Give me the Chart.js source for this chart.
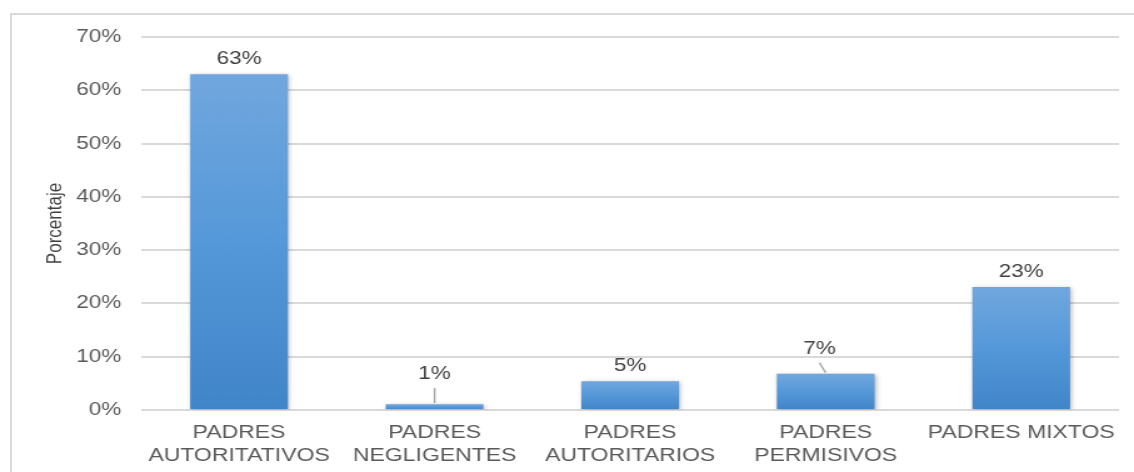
<!DOCTYPE html>
<html>
<head>
<meta charset="utf-8">
<script src="https://cdn.jsdelivr.net/npm/chart.js@4"></script>
<style>
  html, body { margin: 0; padding: 0; background: #fff; overflow: hidden; }
  #wrap { position: relative; width: 1134px; height: 472px; overflow: hidden; }
  #frame { position: absolute; left: 10px; top: 13px; width: 1200px; height: 500px; border: 2px solid #d9d9d9; box-sizing: border-box; }
  /* the original picture is stretched sideways, text included */
  canvas { position: absolute; left: 0; top: 0; transform: scaleX(1.2503); transform-origin: 0 0; }
</style>
</head>
<body>
<div id="wrap">
  <div id="frame"></div>
  <canvas id="myCanvas" width="907" height="472"></canvas>
</div>
<script>
'use strict'

var categories = [["PADRES", "AUTORITATIVOS"], ["PADRES", "NEGLIGENTES"], ["PADRES", "AUTORITARIOS"], ["PADRES", "PERMISIVOS"], "PADRES MIXTOS"]
var percentages = [63, 1.1, 5.4, 6.8, 23.1]
var pointLabels = ["63%", "1%", "5%", "7%", "23%"]
var yTicks = [0, 10, 20, 30, 40, 50, 60, 70]

// labels pushed away from their bar get a small leader line
var leaders = { 1: { dx: 0, dy: 30 }, 3: { dx: -5, dy: 25 } }

var font = "'Liberation Sans', Arial, sans-serif"

function barFill(context) {
    var chart = context.chart
    var y = chart.scales.y
    if (!chart.chartArea || !y) return "#5b9bd5"
    var top = y.getPixelForValue(context.raw)
    var bottom = y.getPixelForValue(0)
    if (!isFinite(top) || top === bottom) return "#5b9bd5"
    var g = chart.ctx.createLinearGradient(0, top, 0, bottom)
    g.addColorStop(0, "#71a7de")
    g.addColorStop(0.5, "#5598d9")
    g.addColorStop(1, "#4185c9")
    return g
}

var shadowPlugin = {
    id: "barShadow",
    beforeDatasetsDraw: function(chart) {
        var ctx = chart.ctx
        ctx.save()
        ctx.shadowColor = "rgba(0,0,0,0.28)"
        ctx.shadowBlur = 4
        ctx.shadowOffsetX = 1
        ctx.shadowOffsetY = 1
    },
    afterDatasetsDraw: function(chart) {
        chart.ctx.restore()
    }
}

var labelPlugin = {
    id: "valueLabels",
    afterDatasetsDraw: function(chart) {
        var ctx = chart.ctx
        var meta = chart.getDatasetMeta(0)
        ctx.save()
        ctx.font = "18px " + font
        ctx.fillStyle = "#404040"
        ctx.textAlign = "center"
        ctx.textBaseline = "middle"
        meta.data.forEach(function(bar, i) {
            var lead = leaders[i]
            var x = bar.x
            var y = bar.y - 15
            if (lead) {
                x = bar.x + lead.dx
                y = bar.y - lead.dy
                ctx.strokeStyle = "#a6a6a6"
                ctx.lineWidth = 1.5
                ctx.beginPath()
                ctx.moveTo(x, y + 14)
                ctx.lineTo(bar.x, bar.y - 1)
                ctx.stroke()
            }
            ctx.fillText(pointLabels[i], x, y)
        })
        ctx.restore()
    }
}

var canvas = document.getElementById("myCanvas")
var ctx = canvas.getContext("2d")

new Chart(ctx, {
    type: "bar",
    data: {
        labels: categories,
        datasets: [{
            label: "Porcentaje",
            data: percentages,
            backgroundColor: barFill,
            borderWidth: 0,
            barPercentage: 0.5,
            categoryPercentage: 1
        }]
    },
    options: {
        responsive: false,
        animation: false,
        layout: { padding: { top: 37, right: 12, left: 0, bottom: 0 } },
        plugins: {
            legend: { display: false },
            tooltip: { enabled: false }
        },
        scales: {
            x: {
                grid: { display: false },
                border: { display: false },
                ticks: {
                    color: "#595959",
                    font: { family: font, size: 18.4, lineHeight: 1.24 },
                    padding: 4,
                    maxRotation: 0,
                    autoSkip: false
                },
                afterFit: function(scale) { scale.height = 62 }
            },
            y: {
                min: 0,
                max: 70,
                afterBuildTicks: function(scale) {
                    scale.ticks = yTicks.map(function(v) { return { value: v } })
                },
                grid: { color: "#d9d9d9", lineWidth: 2, drawTicks: false },
                border: { display: false },
                ticks: {
                    color: "#595959",
                    font: { family: font, size: 18 },
                    padding: 16,
                    callback: function(v) { return v + "%" }
                },
                title: {
                    display: true,
                    text: "Porcentaje",
                    color: "#404040",
                    font: { family: font, size: 17 },
                    padding: { top: 34, bottom: 0 }
                },
                afterFit: function(scale) { scale.width = 113 }
            }
        }
    },
    plugins: [shadowPlugin, labelPlugin]
})
</script>
</body>
</html>
